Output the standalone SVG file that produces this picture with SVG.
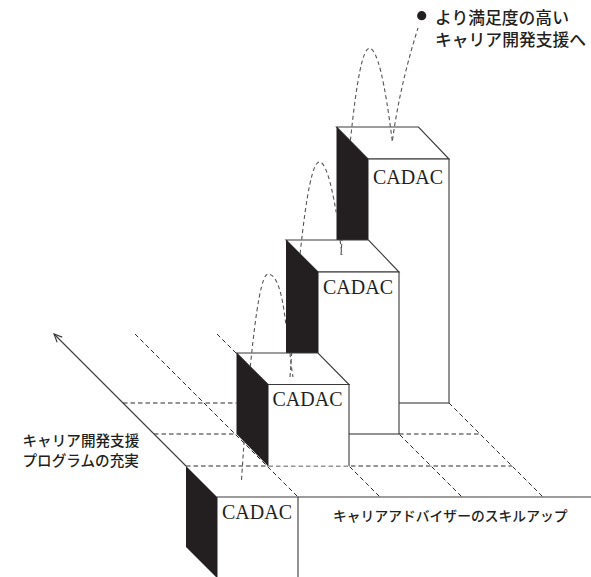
<svg xmlns="http://www.w3.org/2000/svg" width="591" height="577" viewBox="0 0 591 577">
<style>
.face{fill:#fff;stroke:#3a3a3a;stroke-width:1.1;stroke-linejoin:miter}
.side{fill:#231f20;stroke:none}
.edge{fill:none;stroke:#3a3a3a;stroke-width:1.1}
.grid{fill:none;stroke:#2a2a2a;stroke-width:1;stroke-dasharray:4.5 3}
.arc{fill:none;stroke:#555;stroke-width:1.1;stroke-dasharray:4 3}
.lbl{font-family:"Liberation Serif","Times New Roman",serif;font-size:20px;fill:#231f20}
.jp{font-family:"Noto Sans CJK JP","Noto Sans",sans-serif;fill:#231f20;font-weight:500}
</style>
<defs>
<marker id="ah" markerUnits="userSpaceOnUse" markerWidth="12" markerHeight="12" viewBox="-10 -6 12 12" refX="0" refY="0" orient="auto">
<path d="M-8,-3.6 L0,0 L-8,3.6" fill="none" stroke="#3a3a3a" stroke-width="1.1"/>
</marker>
</defs>
<rect width="591" height="577" fill="#fff"/>
<g id="floor-grid">
<path class="grid" d="M123,403 H236.5 M154,434 H236.5 M399,434 H480 M186,466 H512"/>
<path class="grid" d="M135,334 L298,497 M217,334 L380,497 M299,334 L462,497 M380,334 L543,497"/>
<path class="edge" d="M298,497 H591"/>
</g>
<g id="axis">
<path class="edge" d="M186,466 L54,334" marker-end="url(#ah)"/>
</g>
<g id="box-d">
<polygon class="face" points="336.5,127 418.5,127 449,159 368,159"/>
<rect class="face" x="368" y="159" width="81" height="244"/>
<polygon class="side" points="336.5,127 368,159 368,403 336.5,372"/>
<text class="lbl" x="373" y="183.5">CADAC</text>
</g>
<g id="box-c">
<polygon class="face" points="286,240 368.5,240 399,272 318,272"/>
<rect class="face" x="318" y="272" width="81" height="162"/>
<polygon class="side" points="286,240 318,272 318,434 286,403"/>
<text class="lbl" x="323" y="293.5">CADAC</text>
</g>
<g id="box-b">
<polygon class="face" points="236.5,353 318,353 349,384.5 268,384.5"/>
<rect x="268" y="384.5" width="81" height="81" fill="#fff"/>
<path class="edge" d="M268,466 V384.5 H349 V466"/>
<polygon class="side" points="236.5,353 268,384.5 268,466 236.5,434"/>
<text class="lbl" x="272.5" y="406">CADAC</text>
</g>
<g id="box-a">
<rect x="217" y="497" width="81" height="82" fill="#fff"/>
<path class="edge" d="M217,578 V497 H298 V578"/>
<polygon class="side" points="186,466 217,497 217,578 186,547"/>
<text class="lbl" x="222" y="518.5">CADAC</text>
</g>
<g id="connectors">
<path class="arc" d="M241.5,480 Q242.9,459 244.2,440"/>
<path class="arc" d="M250.3,367 Q259.3,274 268,274 Q280.5,274 286,326"/>
<path class="arc" d="M290,353 Q291,366 293,377"/>
<path class="arc" d="M290,377 L291.7,353"/>
<path class="arc" d="M300.1,254 Q309.7,162 319.3,162 Q327.7,162 336.2,212.4"/>
<path class="arc" d="M340.1,240 Q341,248 342,255"/>
<path class="arc" d="M341,255 L342,240"/>
<path class="arc" d="M350.4,140.8 Q359.8,48.3 369.3,48.3 Q380.9,48.3 392.5,143"/>
<path class="arc" d="M392.5,140 Q400,85 418,28"/>
</g>
<g id="label-goal">
<circle cx="421.7" cy="15.7" r="4.6" fill="#231f20"/>
<text class="jp" font-size="16.8"><tspan x="435" y="24">より満足度の高い</tspan><tspan x="435" y="46">キャリア開発支援へ</tspan></text>
</g>
<g id="label-program">
<text class="jp" font-size="14.6"><tspan x="22.5" y="445.5">キャリア開発支援</tspan><tspan x="22.5" y="465.5">プログラムの充実</tspan></text>
</g>
<g id="label-skill">
<text class="jp" x="333" y="520.5" font-size="13.8">キャリアアドバイザーのスキルアップ</text>
</g>
</svg>
